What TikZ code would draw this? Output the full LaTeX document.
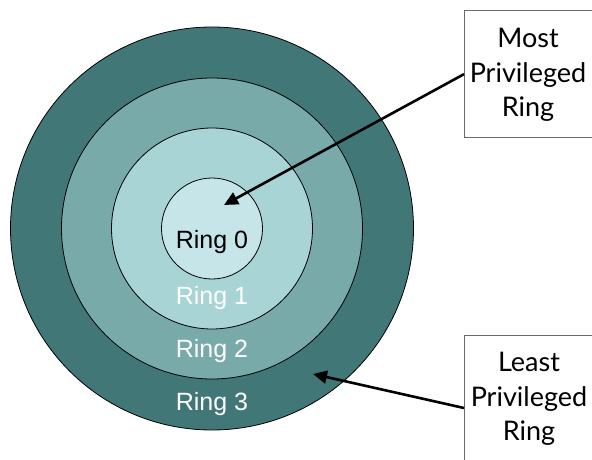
\documentclass[tikz,border=0pt]{standalone}
\usepackage{fontspec}
\setmainfont{Liberation Sans}
\newfontfamily\boxfont{Lato}
\usetikzlibrary{arrows.meta}

\definecolor{ringthree}{HTML}{417877}
\definecolor{ringtwo}{HTML}{79AAAA}
\definecolor{ringone}{HTML}{A8D4D6}
\definecolor{ringzero}{HTML}{C6E5E8}
\definecolor{boxline}{HTML}{6A6A6A}

\tikzset{
  ringdisc/.style={draw=black, line width=0.8pt},
  ringlabel/.style={anchor=base, inner sep=0pt, font=\fontsize{25}{30}\selectfont},
  notebox/.style={draw=boxline, line width=1.3pt, fill=white, anchor=north west,
    minimum width=140pt, inner sep=0pt},
  notetext/.style={align=center, inner sep=0pt, font=\boxfont\fontsize{27}{34.5}\selectfont},
  pointer/.style={line width=2.6pt, -{Triangle[length=14pt,width=13pt]}}
}

\begin{document}
\begin{tikzpicture}[x=1pt, y=-1pt]
  \clip (0,0) rectangle (592,460);
  \fill[white] (0,0) rectangle (592,460);

  % concentric privilege rings
  \node (r3) [ringdisc, circle, fill=ringthree, minimum size=403pt, inner sep=0pt] at (212,228.5) {};
  \node (r2) [ringdisc, circle, fill=ringtwo,   minimum size=301pt, inner sep=0pt] at (212,228.5) {};
  \node (r1) [ringdisc, circle, fill=ringone,   minimum size=201pt, inner sep=0pt] at (212,228.5) {};
  \node (r0) [ringdisc, circle, fill=ringzero,  minimum size=101pt, inner sep=0pt] at (212,228.5) {};

  \node (l0) [ringlabel, text=black] at (212,248) {Ring 0};
  \node (l1) [ringlabel, text=white] at (212,304.5) {Ring 1};
  \node (l2) [ringlabel, text=white] at (212,357.5) {Ring 2};
  \node (l3) [ringlabel, text=white] at (212,410.5) {Ring 3};

  % call-out boxes
  \node (mostbox) [notebox, minimum height=127pt] at (464,10) {};
  \node (mosttext) [notetext] at (528,75) {Most\\Privileged\\Ring};

  \node (leastbox) [notebox, minimum height=146pt] at (464,335) {};
  \node (leasttext) [notetext] at (529,399) {Least\\Privileged\\Ring};

  % pointers
  \coordinate (mosttip) at (224,205);
  \coordinate (leasttip) at (313,374);
  \coordinate (leastfoot) at (leastbox.west |- 0,408);
  \draw[pointer] (mostbox.west) -- (mosttip);
  \draw[pointer] (leastfoot) -- (leasttip);
\end{tikzpicture}
\end{document}
